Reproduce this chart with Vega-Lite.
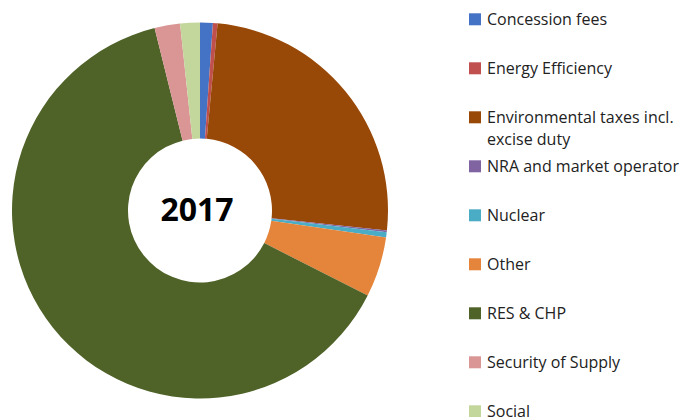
{
  "$schema": "https://vega.github.io/schema/vega-lite/v6.json",
  "width": 400,
  "height": 413,
  "autosize": "none",
  "padding": {"left": 0, "top": 4, "right": 279, "bottom": 0},
  "background": "white",
  "config": {
    "view": {"stroke": null},
    "font": "Open Sans",
    "style": {"guide-label": {"lineHeight": 22}}
  },
  "layer": [
    {
      "data": {
        "values": [
          {"category": "Concession fees", "share": 1.1},
          {"category": "Energy Efficiency", "share": 0.4},
          {"category": "Environmental taxes incl. excise duty", "share": 25.3},
          {"category": "NRA and market operator", "share": 0.15},
          {"category": "Nuclear", "share": 0.45},
          {"category": "Other", "share": 5.2},
          {"category": "RES & CHP", "share": 63.9},
          {"category": "Security of Supply", "share": 2.2},
          {"category": "Social", "share": 1.7}
        ]
      },
      "mark": {"type": "arc", "outerRadius": 188, "innerRadius": 72},
      "encoding": {
        "theta": {"field": "share", "type": "quantitative", "stack": true},
        "color": {
          "field": "category",
          "type": "nominal",
          "scale": {
            "domain": ["Concession fees", "Energy Efficiency", "Environmental taxes incl. excise duty", "NRA and market operator", "Nuclear", "Other", "RES & CHP", "Security of Supply", "Social"],
            "range": ["#4472C4", "#C0504D", "#984807", "#8064A2", "#4BACC6", "#E5853B", "#4F6228", "#D99694", "#C3D69B"]
          },
          "legend": {
            "orient": "none",
            "legendX": 467,
            "legendY": 13,
            "title": null,
            "symbolType": "M-1,-1.95H1V0.05H-1Z",
            "symbolSize": 144,
            "symbolStrokeWidth": 0,
            "labelFontSize": 16,
            "labelFont": "Open Sans",
            "labelColor": "#222222",
            "labelBaseline": "alphabetic",
            "labelLimit": 300,
            "labelOffset": 4,
            "rowPadding": 11,
            "gridAlign": "all",
            "labelExpr": "datum.label == 'Environmental taxes incl. excise duty' ? ['Environmental taxes incl.', 'excise duty'] : datum.label"
          }
        }
      }
    },
    {
      "data": {"values": [{"year": "2017"}]},
      "mark": {"type": "text", "fontSize": 32, "fontWeight": "bold", "font": "Open Sans", "color": "black", "dx": -3},
      "encoding": {"text": {"field": "year"}}
    }
  ]
}
